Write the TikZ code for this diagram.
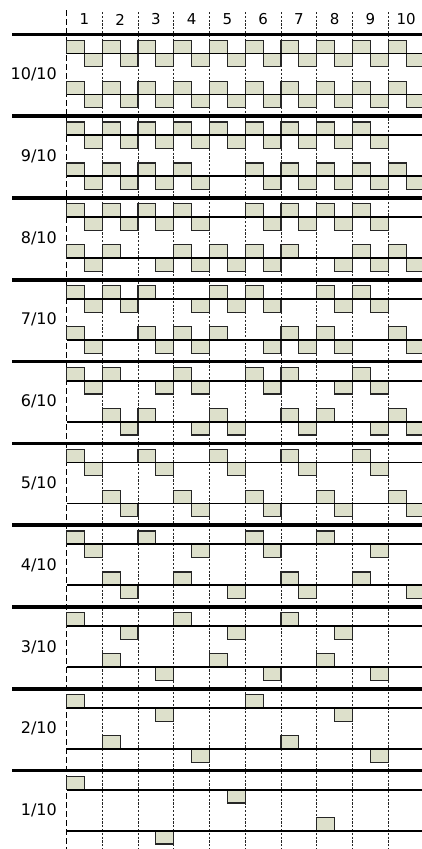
\documentclass[tikz,border=0pt]{standalone}
\usepackage{fontspec}
\setmainfont{DejaVu Sans}
\definecolor{boxfill}{RGB}{221,224,203}
\def\colw{35.75}
\def\halfw{17.875}
\def\boxh{13.3}
\newcommand\pwmsec[6]{%
  \pgfmathsetmacro\secty{34.3+81.8*#1}%
  \pgfmathsetmacro\secya{\secty+19.2}%
  \pgfmathsetmacro\secyb{\secty+60.2}%
  \foreach \c in {#3} \draw[pulse] ({66.5+(\c-1)*\colw},\secya) rectangle ++(\halfw,-\boxh);
  \foreach \c in {#4} \draw[pulse] ({66.5+(\c-1)*\colw+\halfw},\secya) rectangle ++(\halfw,\boxh);
  \foreach \c in {#5} \draw[pulse] ({66.5+(\c-1)*\colw},\secyb) rectangle ++(\halfw,-\boxh);
  \foreach \c in {#6} \draw[pulse] ({66.5+(\c-1)*\colw+\halfw},\secyb) rectangle ++(\halfw,\boxh);
  \draw[sigline] (66.5,\secya) -- (422,\secya);
  \draw[sigline] (66.5,\secyb) -- (422,\secyb);
  \draw[thickrule] (12,\secty) -- (422,\secty);
  \node[lbl] (lab#1) at (57,\secty+40) {#2};
}
\begin{document}
\begin{tikzpicture}[x=1pt,y=-1pt,
  pulse/.style={fill=boxfill,draw=black!85,line width=1.1pt},
  sigline/.style={black,line width=1.8pt},
  thickrule/.style={black,line width=3.6pt},
  griddash/.style={black!85,line width=0.8pt,dash pattern=on 2.2pt off 1.6pt},
  leftdash/.style={black,line width=1.6pt,dash pattern=on 6pt off 3pt},
  lbl/.style={font=\fontsize{16}{18}\selectfont,anchor=east,inner sep=0pt},
  hdr/.style={font=\fontsize{15}{17}\selectfont,inner sep=0pt}]
\useasboundingbox (0,0) rectangle (422,849);
\foreach \k in {1,...,9} \draw[griddash] ({66.5+\k*\colw},12) -- ({66.5+\k*\colw},849);
\draw[leftdash] (66.5,10) -- (66.5,849);
\foreach \k in {1,...,10} \node[hdr] (h\k) at ({66.5+(\k-0.5)*\colw},19.5) {\k};
\pwmsec{0}{10/10}{1,...,10}{1,...,10}{1,...,10}{1,...,10}
\pwmsec{1}{9/10}{1,...,9}{1,...,9}{1,2,3,4,6,7,8,9,10}{1,2,3,4,6,7,8,9,10}
\pwmsec{2}{8/10}{1,2,3,4,6,7,8,9}{1,2,3,4,6,7,8,9}{1,2,4,5,6,7,9,10}{1,3,4,5,6,8,9,10}
\pwmsec{3}{7/10}{1,2,3,5,6,8,9}{1,2,4,5,6,8,9}{1,3,4,5,7,8,10}{1,3,4,6,7,8,10}
\pwmsec{4}{6/10}{1,2,4,6,7,9}{1,3,4,6,8,9}{2,3,5,7,8,10}{2,4,5,7,9,10}
\pwmsec{5}{5/10}{1,3,5,7,9}{1,3,5,7,9}{2,4,6,8,10}{2,4,6,8,10}
\pwmsec{6}{4/10}{1,3,6,8}{1,4,6,9}{2,4,7,9}{2,5,7,10}
\pwmsec{7}{3/10}{1,4,7}{2,5,8}{2,5,8}{3,6,9}
\pwmsec{8}{2/10}{1,6}{3,8}{2,7}{4,9}
\pwmsec{9}{1/10}{1}{5}{8}{3}
\end{tikzpicture}
\end{document}
